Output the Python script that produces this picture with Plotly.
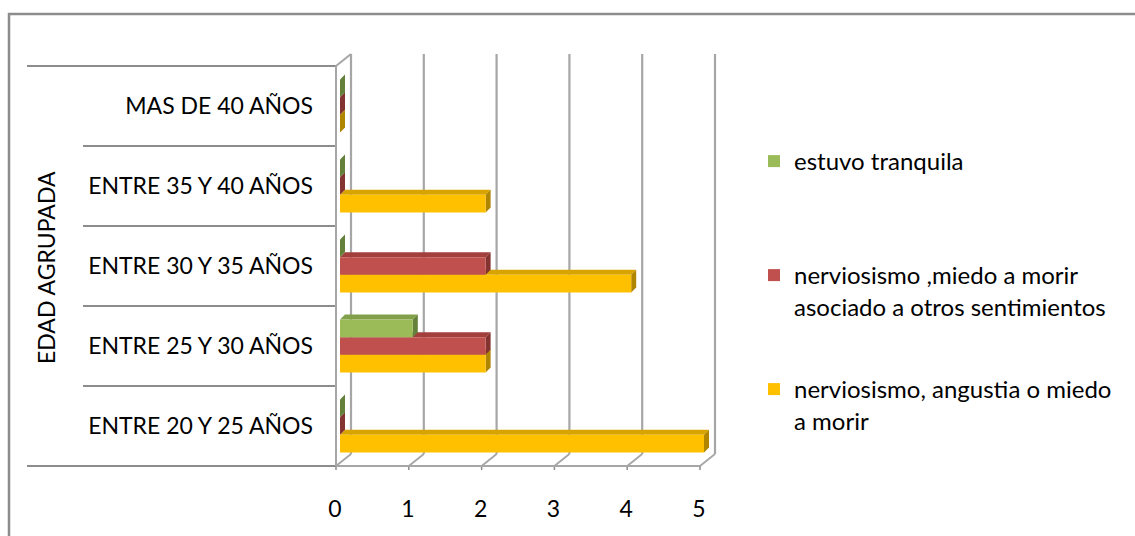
import plotly.graph_objects as go

# ---- data ----------------------------------------------------------------
categorias = [
    "ENTRE 20 Y 25 AÑOS",
    "ENTRE 25 Y 30 AÑOS",
    "ENTRE 30 Y 35 AÑOS",
    "ENTRE 35 Y 40 AÑOS",
    "MAS DE 40 AÑOS",
]
serie_nombres = [
    "estuvo tranquila",
    "nerviosismo ,miedo a morir<br>asociado a otros sentimientos",
    "nerviosismo, angustia o miedo<br>a morir",
]
tranquila = [0, 1, 0, 0, 0]
miedo_otros = [0, 2, 2, 0, 0]
angustia = [5, 2, 4, 2, 0]
x_ticks = [0, 1, 2, 3, 4, 5]
eje_y_titulo = "EDAD AGRUPADA"

# ---- layout geometry (pixels) --------------------------------------------
W, H = 1135, 536
L, R, T, B = 330, 725, 50, 470          # plot area
ZERO_PX = 340                            # pixel column of value 0
PX_X = 72.8                              # pixels per unit on the value axis
PX_Y = 80.0                              # pixels per category band
FIRST_CENTER_PX = 426                    # pixel row of the first category
FRONT = (-4, 0)                          # front plane offset (px)
BACK = (11, -12)                         # back wall offset (px)
DEPTH = 5                                # bar depth (px)
BARGAP = 0.34
FONT = "Lato, 'Open Sans', sans-serif"
FS = 23
FS_LEG = 24

x_range = [(L - ZERO_PX) / PX_X, (R - ZERO_PX) / PX_X]
y_range = [(FIRST_CENTER_PX - B) / PX_Y, (FIRST_CENTER_PX - T) / PX_Y]


def dx(px):
    return px / PX_X


def dy(px):
    # pixels measured downwards -> data units
    return -px / PX_Y


def paper_x(px):
    return (px - L) / (R - L)


def paper_y(py):
    return 1 - (py - T) / (B - T)


series = [
    # drawn bottom-to-top inside each group
    dict(name=serie_nombres[2], values=angustia, front="#FFC000", top="#D9A400", side="#B08500", legend="legend3"),
    dict(name=serie_nombres[1], values=miedo_otros, front="#C0504D", top="#A3403D", side="#853330", legend="legend2"),
    dict(name=serie_nombres[0], values=tranquila, front="#9BBB59", top="#82A04A", side="#64803A", legend="legend"),
]

n = len(series)
bar_w = (1 - BARGAP) / n
ypos = list(range(len(categorias)))

fig = go.Figure()
shapes = []
grid_color = "#A6A6A6"
edge_color = "#8C8C8C"

# back wall gridlines (value 0 doubles as the back edge of the side wall)
y_lo, y_hi = -0.5, len(categorias) - 0.5
for v in x_ticks:
    xb = v + dx(BACK[0])
    shapes.append(dict(type="line", xref="x", yref="y", layer="below",
                       x0=xb, x1=xb, y0=y_lo + dy(BACK[1]), y1=y_hi + dy(BACK[1]),
                       line=dict(color=grid_color, width=2.2)))
    # floor diagonals
    xf = v + dx(FRONT[0])
    shapes.append(dict(type="line", xref="x", yref="y", layer="below",
                       x0=xf, x1=xb, y0=y_lo, y1=y_lo + dy(BACK[1]),
                       line=dict(color=grid_color, width=1.8)))
    # tick marks below the floor edge
    shapes.append(dict(type="line", xref="x", yref="y", layer="below",
                       x0=xf, x1=xf, y0=y_lo, y1=y_lo + dy(8),
                       line=dict(color=edge_color, width=1.5)))

x0f = x_ticks[0] + dx(FRONT[0])
x5f = x_ticks[-1] + dx(FRONT[0])
x0b = x_ticks[0] + dx(BACK[0])
# floor front edge
shapes.append(dict(type="line", xref="x", yref="y", layer="below",
                   x0=x0f, x1=x5f, y0=y_lo, y1=y_lo, line=dict(color=grid_color, width=2)))
# side wall front edge and its top
shapes.append(dict(type="line", xref="x", yref="y", layer="below",
                   x0=x0f, x1=x0f, y0=y_lo, y1=y_hi, line=dict(color=grid_color, width=2)))
shapes.append(dict(type="line", xref="x", yref="y", layer="below",
                   x0=x0f, x1=x0b, y0=y_hi, y1=y_hi + dy(BACK[1]), line=dict(color=grid_color, width=2)))

# category separators reaching out to the labels
for k in range(len(categorias) + 1):
    outer = k in (0, len(categorias))
    shapes.append(dict(type="line", xref="paper", yref="y", layer="below",
                       x0=paper_x(27 if outer else 83), x1=paper_x(ZERO_PX + FRONT[0]),
                       y0=k - 0.5, y1=k - 0.5, line=dict(color=edge_color, width=2)))

# 3-D faces (top and end) of every bar, drawn beneath the flat bar fronts
for k, s in enumerate(series):
    for i, v in zip(ypos, s["values"]):
        c = i - (1 - BARGAP) / 2 + bar_w * (k + 0.5)
        top = c + bar_w / 2
        bot = c - bar_w / 2
        ddx, ddy = dx(DEPTH), -dy(DEPTH)
        if v > 0:
            shapes.append(dict(type="path", xref="x", yref="y", layer="below",
                               path=f"M 0,{top} L {v},{top} L {v + ddx},{top + ddy} L {ddx},{top + ddy} Z",
                               fillcolor=s["top"], line=dict(width=0)))
        shapes.append(dict(type="path", xref="x", yref="y", layer="below",
                           path=f"M {v},{bot} L {v},{top} L {v + ddx},{top + ddy} L {v + ddx},{bot + ddy} Z",
                           fillcolor=s["side"], line=dict(width=0)))

for s in series:
    fig.add_trace(go.Bar(
        y=ypos, x=s["values"], name=s["name"], orientation="h",
        marker=dict(color=s["front"], line=dict(width=0)),
        legend=s["legend"], hoverinfo="x+name", showlegend=True,
    ))

# chart border
shapes.append(dict(type="rect", xref="paper", yref="paper",
                   x0=paper_x(9), x1=paper_x(W + 10), y0=paper_y(14), y1=paper_y(H + 10),
                   line=dict(color="#8C8C8C", width=2.5), fillcolor="rgba(0,0,0,0)"))

legend_common = dict(font=dict(family=FONT, size=FS_LEG, color="#000000"),
                     xanchor="left", yanchor="top", bgcolor="rgba(0,0,0,0)",
                     itemclick=False, valign="top", visible=True)
legend_x = paper_x(754)

fig.update_layout(
    width=W, height=H, autosize=False, showlegend=True,
    margin=dict(l=L, r=W - R, t=T, b=H - B),
    paper_bgcolor="white", plot_bgcolor="white",
    barmode="group", bargap=BARGAP, bargroupgap=0,
    font=dict(family=FONT, size=FS, color="#000000"),
    shapes=shapes,
    xaxis=dict(range=x_range, tickvals=x_ticks, showgrid=False, zeroline=False,
               showline=False, ticks="", ticklabelstandoff=23, ticklabelshift=-5,
               tickfont=dict(family=FONT, size=FS, color="#000000"), fixedrange=True),
    yaxis=dict(range=y_range, tickvals=ypos, ticktext=categorias, showgrid=False,
               zeroline=False, showline=False, ticks="", ticklabelstandoff=16,
               tickfont=dict(family=FONT, size=FS, color="#000000"), fixedrange=True),
    legend=dict(x=legend_x, y=paper_y(139), **legend_common),
    legend2=dict(x=legend_x, y=paper_y(253), **legend_common),
    legend3=dict(x=legend_x, y=paper_y(367), **legend_common),
    annotations=[dict(text=eje_y_titulo, xref="paper", yref="paper",
                      x=paper_x(46), y=paper_y(268), xanchor="center", yanchor="middle",
                      textangle=-90, showarrow=False,
                      font=dict(family=FONT, size=FS, color="#000000"))],
)

fig.write_html("out.html")
